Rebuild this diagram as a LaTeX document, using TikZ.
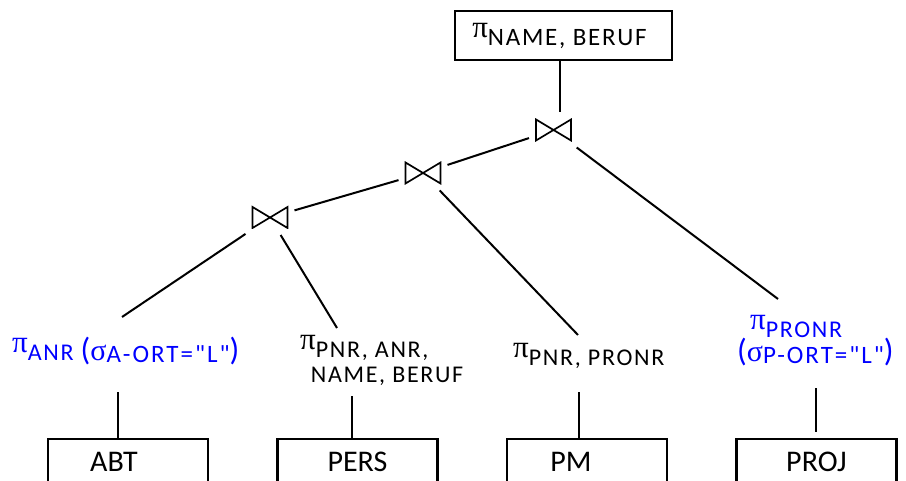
\documentclass[tikz,border=0pt]{standalone}
\usepackage{fontspec}
\setmainfont{Carlito}
\newfontfamily\subfont[LetterSpace=7]{Carlito}
\newfontfamily\sigfont[LetterSpace=8,Ligatures=TeXOff]{Carlito}
\newfontfamily\grkfont{Liberation Serif}
\definecolor{opblue}{RGB}{0,0,255}
\newcommand{\pisub}[1]{{\grkfont\fontsize{31}{31}\selectfont π}\raisebox{-8pt}{\subfont\fontsize{24}{28}\selectfont #1}}
\newcommand{\sigsub}[1]{{\grkfont\fontsize{30}{30}\selectfont σ}\raisebox{-2pt}{\sigfont\fontsize{25}{28}\selectfont #1}}
\newcommand{\opar}{{\subfont\fontsize{32}{34}\selectfont(}}
\newcommand{\cpar}{{\subfont\fontsize{32}{34}\selectfont)}}
\begin{document}
\begin{tikzpicture}[x=1pt,y=1pt,
  conn/.style={line width=2pt},
  topbox/.style={draw, line width=2.4pt, minimum width=217pt, minimum height=49pt},
  relbox/.style={draw, line width=2.4pt, anchor=north, minimum width=160pt, minimum height=70pt,
    text height=19pt, text depth=25pt, font=\fontsize{30}{32}\selectfont},
  oplabel/.style={inner sep=0pt, anchor=base west},
  joinop/.style={minimum width=37pt, minimum height=23pt, inner sep=0pt, outer sep=6pt,
    path picture={\draw[line width=1.7pt]
      ([shift={(1,-1)}]path picture bounding box.north west) --
      ([shift={(-1,1)}]path picture bounding box.south east) --
      ([shift={(-1,-1)}]path picture bounding box.north east) --
      ([shift={(1,1)}]path picture bounding box.south west) -- cycle;}}]
\useasboundingbox (0,0) rectangle (906,481);
\clip (0,0) rectangle (906,481);
% projection on top
\node [topbox] (top) at (563.5,445.5) {\pisub{\fontsize{25}{28}\selectfont NAME, BERUF}\hspace*{8pt}};
% joins
\node [joinop] (j1) at (553.5,351) {};
\node [joinop] (j2) at (423,308) {};
\node [joinop] (j3) at (270,263.5) {};
% operators over the relations
\node [oplabel, text=opblue] (abtop) at (12,128) {\pisub{ANR \opar\sigsub{A-ORT="L"}\cpar}};
\node [oplabel] (persop) at (300,131) {\pisub{\vtop{\baselineskip=25pt\lineskiplimit=-30pt
  \hbox{PNR, ANR,}\hbox{\kern-5pt NAME, BERUF}}}};
\node [oplabel] (pmop) at (513,123) {\pisub{PNR, PRONR}};
\node [oplabel, text=opblue] (projop) at (750,151) {\vtop{\baselineskip=32pt\lineskiplimit=-30pt
  \hbox{\pisub{PRONR}}\hbox{\kern-13pt\opar\sigsub{P-ORT="L"}\cpar}}};
% relations
\node [relbox] (abt) at (128,43) {ABT\hspace*{28pt}};
\node [relbox] (pers) at (357.5,43) {PERS};
\node [relbox] (pm) at (587,43) {PM\hspace*{32pt}};
\node [relbox] (proj) at (816.5,43) {PROJ};
% tree
\draw [conn] ([xshift=-3.5pt]top.south) -- ([xshift=6.5pt]j1.north);
\draw [conn] (j1) -- (j2);
\draw [conn] (j2) -- (j3);
\draw [conn] (j3) -- ([shift={(110,36)}]abtop.base west);
\draw [conn] (j3) -- ([shift={(37,22)}]persop.base west);
\draw [conn] (j2) -- ([shift={(65,23)}]pmop.base west);
\draw [conn] (j1) -- ([shift={(28,31)}]projop.base west);
\draw [conn] ([xshift=-10pt]abt.north) -- ([shift={(106,-39)}]abtop.base west);
\draw [conn] ([xshift=-5.5pt]pers.north) -- ([shift={(52,-46)}]persop.base west);
\draw [conn] ([xshift=-8pt]pm.north) -- ([shift={(66,-34)}]pmop.base west);
\draw [conn] ([shift={(-0.5,6)}]proj.north) -- ([shift={(66,-58)}]projop.base west);
\end{tikzpicture}
\end{document}
